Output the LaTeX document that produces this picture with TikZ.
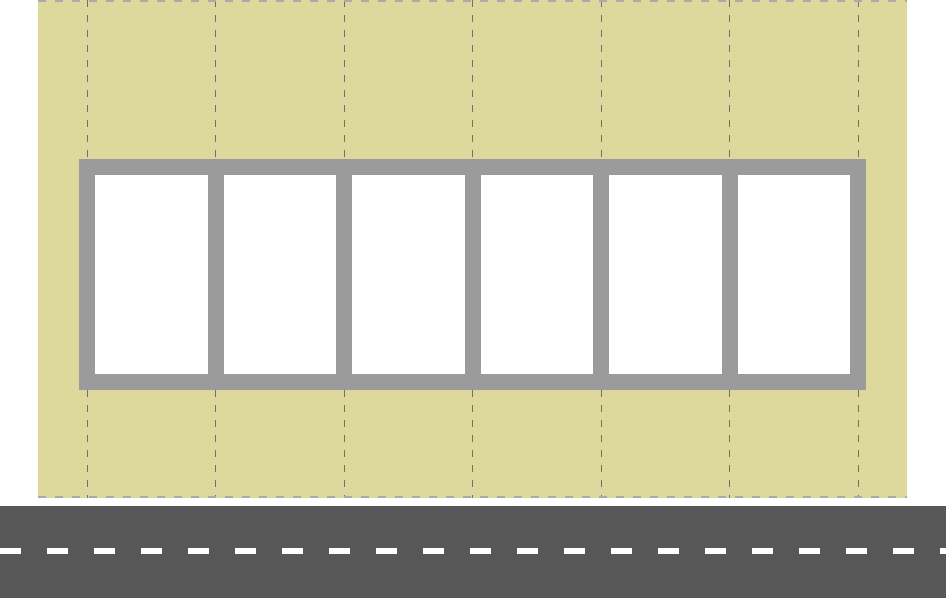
\documentclass[tikz,border=0pt]{standalone}
\definecolor{lotkhaki}{HTML}{DDD89B}
\definecolor{framegray}{HTML}{9B9B9B}
\definecolor{roadgray}{HTML}{575757}
\definecolor{gridgray}{HTML}{707070}
\definecolor{edgegray}{HTML}{ABABAB}
\begin{document}
\begin{tikzpicture}[x=1pt,y=-1pt]
        \tikzset{gridline/.style={gridgray, line width=0.8pt, dash pattern=on 7pt off 8pt},
                 lotedge/.style={edgegray, line width=2pt, dash pattern=on 8pt off 9pt},
                 window/.style={fill=white}}
        \useasboundingbox (0,0) rectangle (946,598);
        % lot
        \fill [lotkhaki] (38,0) rectangle (907,498);
        \draw [gridline] (87,0) -- (87,498);
        \draw [gridline] (215.5,0) -- (215.5,498);
        \draw [gridline] (344,0) -- (344,498);
        \draw [gridline] (472.5,0) -- (472.5,498);
        \draw [gridline] (601,0) -- (601,498);
        \draw [gridline] (729.5,0) -- (729.5,498);
        \draw [gridline] (858,0) -- (858,498);
        \draw [lotedge] (38,1) -- (907,1);
        \draw [lotedge] (38,497) -- (907,497);
        % building
        \fill [framegray] (79,159) rectangle (866,390);
        \fill [window] (95,175) rectangle (207.5,374);
        \fill [window] (223.5,175) rectangle (336,374);
        \fill [window] (352,175) rectangle (464.5,374);
        \fill [window] (480.5,175) rectangle (593,374);
        \fill [window] (609,175) rectangle (721.5,374);
        \fill [window] (737.5,175) rectangle (850,374);
        % road
        \fill [roadgray] (0,506) rectangle (946,598);
        \draw [white, line width=6pt, dash pattern=on 21pt off 26pt] (0,550.5) -- (946,550.5);
\end{tikzpicture}
\end{document}
